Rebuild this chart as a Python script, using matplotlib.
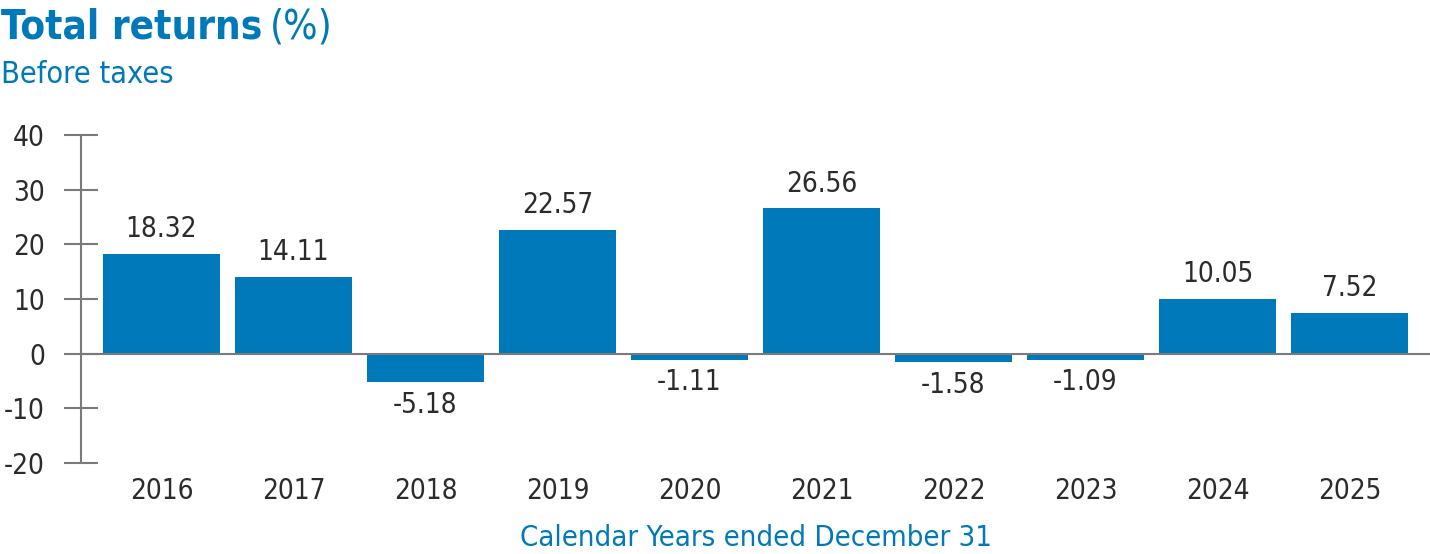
import matplotlib
matplotlib.use("Agg")
import matplotlib.pyplot as plt

years = ["2016", "2017", "2018", "2019", "2020", "2021", "2022", "2023", "2024", "2025"]
returns = [18.32, 14.11, -5.18, 22.57, -1.11, 26.56, -1.58, -1.09, 10.05, 7.52]
yticks = [-20, -10, 0, 10, 20, 30, 40]

plt.rcParams["font.family"] = ["DejaVu Sans"]
plt.rcParams["font.stretch"] = "condensed"

blue = "#0079ba"
grey = "#7a7a7a"
dark = "#2b2b2b"

fig = plt.figure(figsize=(14.3, 5.54), dpi=100)
ax = fig.add_axes([0.0566, 0.1643, 0.9434, 0.592])

x = list(range(len(years)))
ax.bar(x, returns, width=0.89, color=blue, zorder=2)
ax.axhline(0, color=grey, lw=1.5, zorder=3)

# value labels above positive bars, below negative ones
for xi, v in zip(x, returns):
    if v >= 0:
        ax.text(xi, v + 2.0, f"{v:.2f}", ha="center", va="bottom", fontsize=20, color=dark)
    else:
        ax.text(xi, v - 1.6, f"{v:.2f}", ha="center", va="top", fontsize=20, color=dark)

ax.set_xlim(-0.61, 9.61)
ax.set_ylim(-20, 40)
ax.set_yticks(yticks)
ax.set_yticklabels([str(t) for t in yticks], fontsize=20, color=dark)
ax.set_xticks(x)
ax.set_xticklabels(years, fontsize=20, color=dark)
ax.tick_params(axis="y", direction="inout", length=24, width=1.5, color=grey, pad=14)
ax.tick_params(axis="x", length=0, pad=10)
for s in ["top", "right", "bottom"]:
    ax.spines[s].set_visible(False)
ax.spines["left"].set_color(grey)
ax.spines["left"].set_linewidth(1.5)
ax.set_xlabel("Calendar Years ended December 31", fontsize=21, color=blue, labelpad=14)

t1 = fig.text(0.001, 0.931, "Total returns", fontsize=29, fontweight="bold", color=blue, va="baseline")
fig.canvas.draw()
bb = t1.get_window_extent().transformed(fig.transFigure.inverted())
fig.text(bb.x1 + 0.005, 0.931, "(%)", fontsize=29, color=blue, va="baseline")
fig.text(0.001, 0.851, "Before taxes", fontsize=22, color=blue, va="baseline")

fig.savefig("out.png", dpi=100)
